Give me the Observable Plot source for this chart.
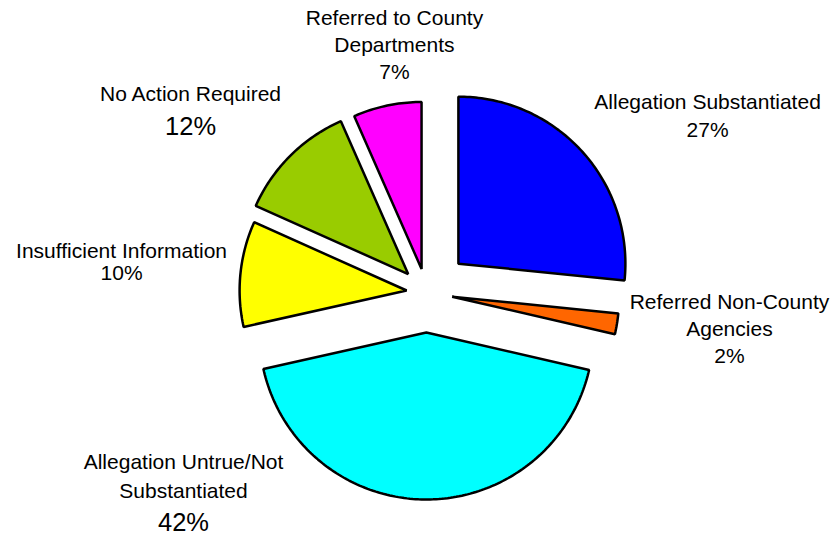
<!DOCTYPE html>
<html><head><meta charset="utf-8">
<script src="https://cdn.jsdelivr.net/npm/d3@7"></script>
<script src="https://cdn.jsdelivr.net/npm/@observablehq/plot@0.6"></script>
<style>body{margin:0;background:#fff;}</style>
</head><body><div id="chart"></div>
<script>
// ---- data ----
const categories = ["Allegation Substantiated", "Referred Non-County Agencies", "Allegation Untrue/Not Substantiated", "Insufficient Information", "No Action Required", "Referred to County Departments"];
const shares = [26.6, 2.0, 42.9, 10.2, 11.7, 6.6];
const percentLabels = ["27%", "2%", "42%", "10%", "12%", "7%"];
const labelLines = [["Allegation Substantiated"], ["Referred Non-County", "Agencies"], ["Allegation Untrue/Not", "Substantiated"], ["Insufficient Information"], ["No Action Required"], ["Referred to County", "Departments"]];
const colors = ["#0000FF", "#FF6600", "#00FFFF", "#FFFF00", "#99CC00", "#FF00FF"];

// ---- layout ----
const W = 833, H = 537, R = 167, CX = 426, CY = 292;
const explode = [43, 26, 40, 20, 26, 24];               // px along bisector
const labelAnchor = [[1.683, 1.138], [1.814, -0.060], [-1.455, -1.018], [-1.826, 0.246], [-1.413, 1.186], [-0.192, 1.641]]; // first line centre, radius units
const lineGap = [28, 26.5, 29, 22, 32, 27];
const pctGap = [28, 27, 31, 22, 32, 27];
const bigPct = [false, false, true, false, true, false];

const total = d3.sum(shares);
let acc = 0;
const polys = [];
categories.forEach((c, i) => {
  const a0 = acc / total * 2 * Math.PI;
  acc += shares[i];
  const a1 = acc / total * 2 * Math.PI;
  const mid = (a0 + a1) / 2;
  const e = explode[i] / R;
  const ox = e * Math.sin(mid), oy = e * Math.cos(mid);
  const pts = [{x: ox, y: oy}];
  const n = Math.max(4, Math.ceil((a1 - a0) / (Math.PI / 180)));
  for (let k = 0; k <= n; k++) {
    const t = a0 + (a1 - a0) * k / n;
    pts.push({x: ox + Math.sin(t), y: oy + Math.cos(t)});
  }
  polys.push({cat: c, color: colors[i], pts});
});

const textNormal = [], textBig = [];
categories.forEach((c, i) => {
  const [lx, ly] = labelAnchor[i];
  labelLines[i].forEach((t, k) => textNormal.push({x: lx, y: ly - k * lineGap[i] / R, text: t}));
  const py = ly - ((labelLines[i].length - 1) * lineGap[i] + pctGap[i]) / R;
  (bigPct[i] ? textBig : textNormal).push({x: lx, y: py, text: percentLabels[i]});
});

const chart = Plot.plot({
  width: W, height: H,
  margin: 0,
  x: {domain: [-CX / R, (W - CX) / R], axis: null},
  y: {domain: [-(H - CY) / R, CY / R], axis: null},
  style: {fontFamily: "'Liberation Sans', Arial, sans-serif", background: "#fff"},
  marks: [
    ...polys.map(p => Plot.line(p.pts, {x: "x", y: "y", fill: p.color, stroke: "black", strokeWidth: 2.5, strokeLinejoin: "miter", curve: "linear-closed"})),
    Plot.text(textNormal, {x: "x", y: "y", text: "text", fontSize: 21, fill: "black"}),
    Plot.text(textBig, {x: "x", y: "y", text: "text", fontSize: 25.5, fill: "black"})
  ]
});
document.getElementById("chart").appendChild(chart);
</script>
</body></html>
